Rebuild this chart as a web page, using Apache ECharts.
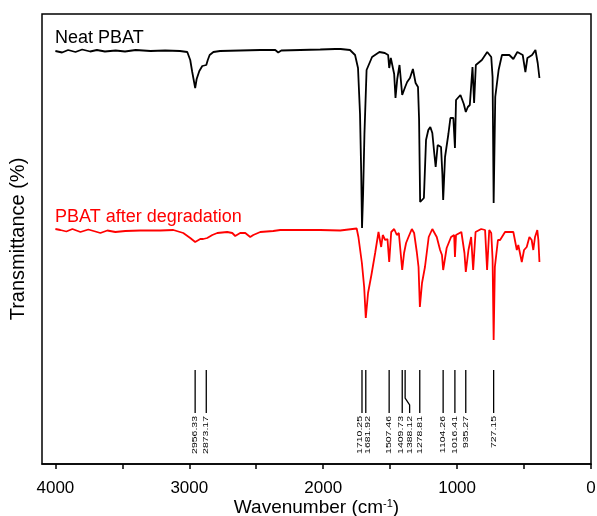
<!DOCTYPE html>
<html>
<head>
<meta charset="utf-8">
<script src="https://cdn.jsdelivr.net/npm/echarts@6/dist/echarts.min.js"></script>
<style>
html,body{margin:0;padding:0;background:#fff;}
#chart{width:597px;height:516px;}
</style>
</head>
<body>
<div id="chart"></div>
<script>
// ---- data (wavenumber in cm-1, transmittance in arbitrary offset units) ----
const neatWn = [4000,3950,3905,3850,3800,3740,3690,3630,3550,3480,3400,3290,3180,3070,3015,2993,2978,2956,2945,2925,2903,2873,2862,2848,2820,2770,2620,2470,2358,2336,2313,2172,2022,1910,1870,1800,1762,1740,1725,1716,1710,1702,1692,1676,1635,1580,1540,1515,1507,1495,1470,1460,1447,1430,1410,1388,1373,1352,1330,1310,1292,1284,1276,1262,1248,1232,1215,1200,1185,1170,1160,1145,1120,1110,1104,1090,1065,1050,1028,1016,1008,975,950,935,920,905,885,873,860,815,775,745,735,727,715,690,665,610,580,550,510,490,475,440,415,405,398,385];
const neatT  = [413,411.5,414,412,414.5,412.5,414,412.5,413.5,412.5,414,413,413.5,413,412,404,392,376,385,393,398,399,404,409,412,413,413.5,414,414,411.5,413.5,414,414.5,415,415,414,409,396,350,290,236,270,330,394,407,412,411,409,396,406,390,366,385,399,369,377,382,386,395,381,377,345,262,262,266,324,334,337,331,310,297,319,317,290,264,307,330,346,346,316,364,369,360,352,357,359,397,361,399,404,412,407,387,261,367,394,409,409,405,412,409,392,406,409,414,416,401,386];

const degWn = [4000,3963,3918,3873,3813,3754,3702,3664,3612,3552,3478,3366,3216,3119,3045,2993,2956,2918,2896,2866,2828,2791,2717,2679,2657,2620,2582,2545,2522,2470,2373,2321,2172,2022,1873,1750,1737,1711,1694,1682,1665,1640,1612,1587,1575,1567,1555,1537,1520,1507,1492,1470,1450,1435,1410,1396,1381,1363,1338,1321,1301,1288,1278,1262,1240,1212,1185,1152,1127,1113,1104,1078,1045,1022,1016,1008,968,945,935,915,895,880,862,820,791,776,760,745,735,727,718,695,679,642,580,554,543,517,500,480,460,443,431,418,401,393,385];
const degT  = [235,234,232.5,235,232,234.5,232.5,231,233.5,232,233,233.5,233.5,234,231,226,222,225,225,226,229,231,232,231,228,231,231,227,229,232,233,234,234,234,233.5,235.5,227,201,177,146,171,189,211,232,234,217,229,224,225,202,232,235,229,231,194,211,221,227,235,231,212,197,157,181,197,227,235,227,214,209,194,216,227,229,207,229,232,211,192,214,227,194,232,235,234,194,234,231,205,124,197,224,224,232,232,214,219,202,214,217,227,224,214,227,234,224,202];

const peakWn     = [2956.33,2873.17,1710.25,1681.92,1507.46,1409.73,1388.12,1278.81,1104.26,1016.41,935.27,727.15];
const peakLabels = ['2956.33','2873.17','1710.25','1681.92','1507.46','1409.73','1388.12','1278.81','1104.26','1016.41','935.27','727.15'];

const xTicks = [4000,3500,3000,2500,2000,1500,1000,500,0];
const xLabels = [4000,3000,2000,1000,0];

const seriesNames = ['Neat PBAT','PBAT after degradation'];

// ---- build ----
const FONT = '"Liberation Sans", Arial, sans-serif';
const zip = (a,b) => a.map((v,i)=>[v,b[i]]);

// marker geometry (in y-axis units) & label nudges (px), purely layout
const MARK_TOP = 94, MARK_KINK1 = 66, MARK_KINK2 = 59, MARK_BOT = 51, LABEL_TOP = 48;
const kink = {'1388.12': 4.5};
const labelShift = {'1710.25': -2, '1681.92': 2.5, '1409.73': -1};

const chart = echarts.init(document.getElementById('chart'), null, {renderer:'canvas'});

chart.setOption({
  animation: false,
  backgroundColor: '#fff',
  grid: {left:42, right:6, top:14, bottom:52, show:true, borderColor:'#000', borderWidth:1.5,
         backgroundColor:'transparent', containLabel:false, outerBoundsMode:'none'},
  xAxis: {
    type:'value', inverse:true, min:0, max:4100,
    axisLine:{show:true, lineStyle:{color:'#000', width:1.5}},
    axisTick:{show:true, length:5, lineStyle:{color:'#000', width:1.5}, customValues: xTicks},
    axisLabel:{color:'#000', fontSize:17, fontFamily:FONT, margin:16, customValues: xLabels,
               formatter: v => String(v)},
    splitLine:{show:false},
    name:'{a|Wavenumber (cm}{s|-1}{a|)}',
    nameLocation:'middle', nameGap:34, nameMoveOverlap:false,
    nameTextStyle:{
      rich:{
        a:{fontSize:19, fontFamily:FONT, color:'#000'},
        s:{fontSize:11, fontFamily:FONT, color:'#000', verticalAlign:'top'}
      }
    }
  },
  yAxis: {
    type:'value', min:0, max:450,
    axisLine:{show:false}, axisTick:{show:false}, axisLabel:{show:false}, splitLine:{show:false},
    name:'Transmittance (%)', nameLocation:'middle', nameGap:14, nameMoveOverlap:false,
    nameTextStyle:{fontSize:20, fontFamily:FONT, color:'#000'}
  },
  graphic: [
    {type:'text', left:55, top:29, style:{text:seriesNames[0], font:'18px '+FONT, fill:'#000'}},
    {type:'text', left:55, top:208, style:{text:seriesNames[1], font:'18px '+FONT, fill:'#ff0000'}}
  ],
  series: [
    {name:seriesNames[0], type:'line', data:zip(neatWn,neatT), showSymbol:false, symbol:'none',
     lineStyle:{color:'#000', width:1.8}, z:3},
    {name:seriesNames[1], type:'line', data:zip(degWn,degT), showSymbol:false, symbol:'none',
     lineStyle:{color:'#ff0000', width:1.8}, z:3},
    {type:'custom', data: peakWn.map(v=>[v]), encode:{x:0}, z:4,
     renderItem: function(params, api){
       const wn = api.value(0);
       const lbl = peakLabels[params.dataIndex];
       const dx = kink[lbl] || 0;
       const lx = (labelShift[lbl] || 0) + dx;
       const pTop = api.coord([wn, MARK_TOP]);
       const pK1 = api.coord([wn, MARK_KINK1]);
       const pK2 = api.coord([wn, MARK_KINK2]);
       const pBot = api.coord([wn, MARK_BOT]);
       const pLab = api.coord([wn, LABEL_TOP]);
       const pts = dx ? [pTop, pK1, [pK2[0]+dx, pK2[1]], [pBot[0]+dx, pBot[1]]] : [pTop, pBot];
       return {type:'group', children:[
         {type:'polyline', shape:{points:pts}, style:{stroke:'#000', lineWidth:1.3, fill:null}},
         {type:'text', x:pLab[0]+lx, y:pLab[1], rotation:Math.PI/2, scaleY:0.75,
          style:{text:lbl, font:'10.5px '+FONT, fill:'#000', align:'right', verticalAlign:'middle'}}
       ]};
     }
    }
  ]
});
</script>
</body>
</html>
